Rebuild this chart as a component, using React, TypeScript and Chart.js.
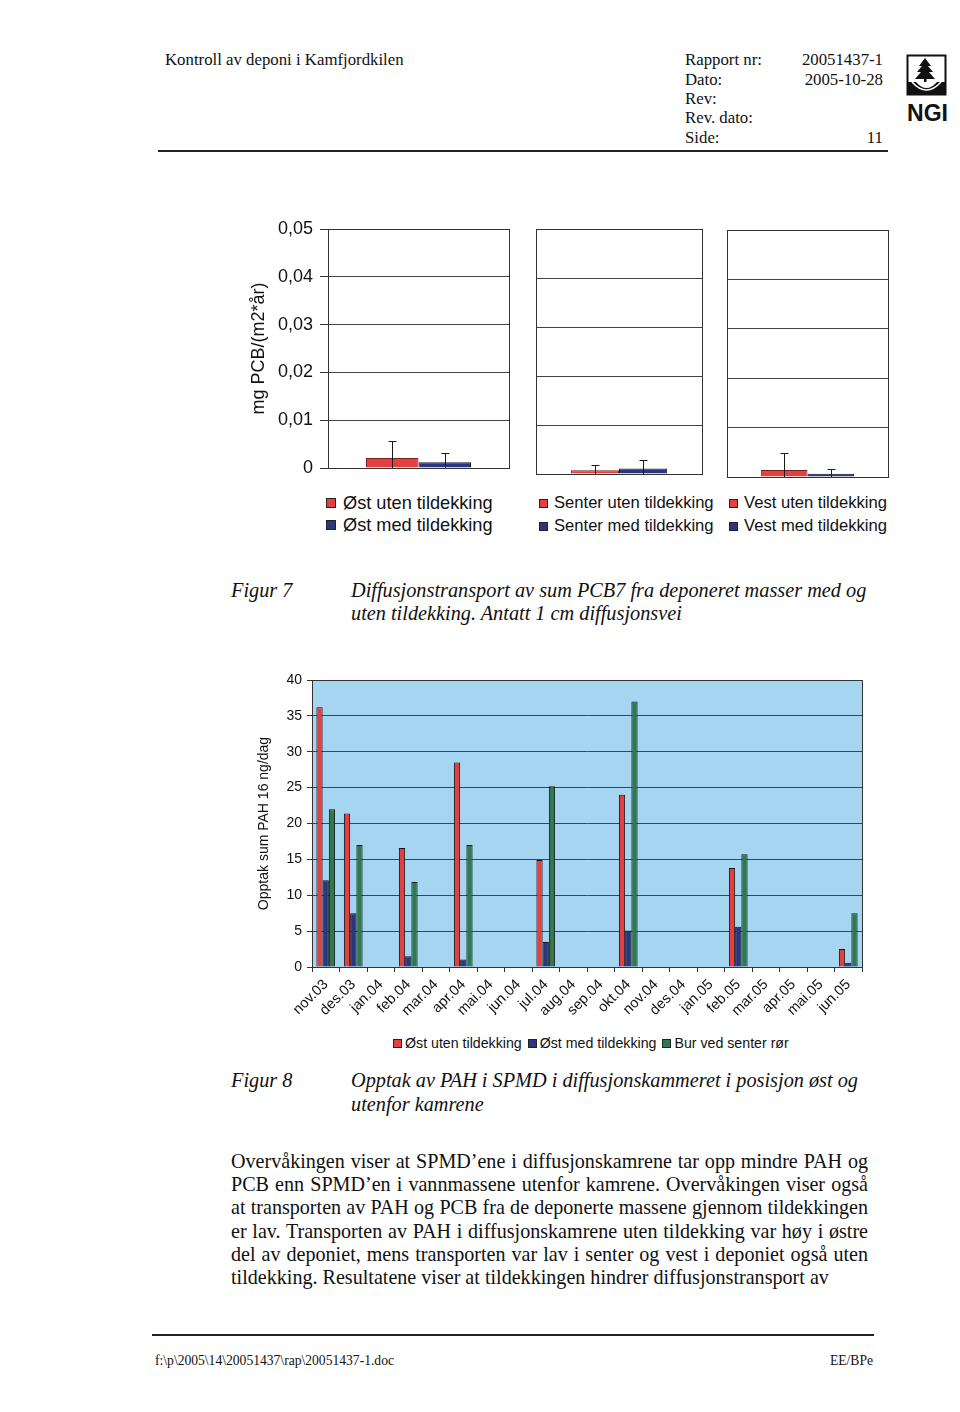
import React, { useEffect, useRef } from "react";
import { Chart, registerables } from "chart.js";
Chart.register(...registerables);

// ---------- Figure 7 data (PCB7 diffusion transport) ----------
const pcbPanels = ["Øst", "Senter", "Vest"];
const pcbUten = [0.0021, 0.00075, 0.0014];
const pcbUtenErr = [0.0035, 0.00105, 0.0034];
const pcbMed = [0.0012, 0.0011, 0.00067];
const pcbMedErr = [0.0019, 0.0018, 0.00093];
const pcbUtenLabels = ["Øst uten tildekking", "Senter uten tildekking", "Vest uten tildekking"];
const pcbMedLabels = ["Øst med tildekking", "Senter med tildekking", "Vest med tildekking"];
const pcbYTitle = "mg PCB/(m2*år)";

// ---------- Figure 8 data (PAH uptake) ----------
const months = [
  "nov.03", "des.03", "jan.04", "feb.04", "mar.04", "apr.04", "mai.04", "jun.04", "jul.04", "aug.04",
  "sep.04", "okt.04", "nov.04", "des.04", "jan.05", "feb.05", "mar.05", "apr.05", "mai.05", "jun.05",
];
const ostUten = [36.2, 21.4, null, 16.6, null, 28.5, null, null, 14.9, null, null, 24.0, null, null, null, 13.8, null, null, null, 2.5];
const ostMed = [12.1, 7.5, null, 1.5, null, 1.05, null, null, 3.5, null, null, 5.1, null, null, null, 5.6, null, null, null, 0.6];
const burSenter = [22.0, 17.0, null, 11.85, null, 17.0, null, null, 25.2, null, null, 37.0, null, null, null, 15.7, null, null, null, 7.5];
const pahSeriesNames = ["Øst uten tildekking", "Øst med tildekking", "Bur ved senter rør"];
const pahYTitle = "Opptak sum PAH 16 ng/dag";

const RED = "#e4403f";
const BLUE = "#2c367f";
const GREEN = "#2e7a4e";
const PLOT_BG = "#a6d5f2";

const SANS = "'Liberation Sans', Arial, sans-serif";
const SERIF = "'Liberation Serif', 'Times New Roman', serif";

const errorBarPlugin = {
  id: "errorBars",
  afterDatasetsDraw(chart: any) {
    const ctx = chart.ctx;
    const yScale = chart.scales.y;
    chart.data.datasets.forEach((ds: any, i: number) => {
      const errs = ds.errors;
      if (!errs) return;
      const meta = chart.getDatasetMeta(i);
      meta.data.forEach((el: any, j: number) => {
        const v = ds.data[j];
        const e = errs[j];
        if (v == null || e == null) return;
        const x = Math.round(el.x) + 0.5;
        const yT = Math.round(yScale.getPixelForValue(v + e)) + 0.5;
        const yB = yScale.getPixelForValue(Math.max(0, v - e));
        ctx.save();
        ctx.strokeStyle = "#1a1a1a";
        ctx.lineWidth = 1;
        ctx.beginPath();
        ctx.moveTo(x, yB);
        ctx.lineTo(x, yT);
        ctx.moveTo(x - 4, yT);
        ctx.lineTo(x + 4, yT);
        ctx.stroke();
        ctx.restore();
      });
    });
  },
};

const framePlugin = {
  id: "frameBox",
  beforeDraw(chart: any, _args: any, opts: any) {
    const a = chart.chartArea;
    if (opts && opts.bg) {
      const ctx = chart.ctx;
      ctx.save();
      ctx.fillStyle = opts.bg;
      ctx.fillRect(a.left, a.top, a.right - a.left, a.bottom - a.top);
      ctx.restore();
    }
  },
  afterDraw(chart: any, _args: any, opts: any) {
    const a = chart.chartArea;
    const ctx = chart.ctx;
    ctx.save();
    ctx.strokeStyle = (opts && opts.color) || "#222";
    ctx.lineWidth = 1;
    ctx.strokeRect(Math.round(a.left) + 0.5, Math.round(a.top) + 0.5, Math.round(a.right - a.left), Math.round(a.bottom - a.top));
    ctx.restore();
  },
};

function ChartCanvas(props: { left: number; top: number; width: number; height: number; make: () => any }) {
  const ref = useRef<HTMLCanvasElement | null>(null);
  useEffect(() => {
    if (!ref.current) return;
    const chart = new Chart(ref.current, props.make());
    return () => chart.destroy();
  }, []);
  return (
    <canvas
      ref={ref}
      width={props.width}
      height={props.height}
      style={{ position: "absolute", left: props.left, top: props.top, width: props.width, height: props.height }}
    />
  );
}

function pcbConfig(i: number, padding: any, yWidth: number, showTicks: boolean) {
  return {
    type: "bar",
    data: {
      labels: [pcbPanels[i]],
      datasets: [
        { label: pcbUtenLabels[i], data: [pcbUten[i]], errors: [pcbUtenErr[i]], backgroundColor: RED, borderColor: "#7a2020", borderWidth: 1 },
        { label: pcbMedLabels[i], data: [pcbMed[i]], errors: [pcbMedErr[i]], backgroundColor: BLUE, borderColor: "#15183a", borderWidth: 1 },
      ],
    },
    options: {
      responsive: false,
      animation: false,
      devicePixelRatio: 1,
      layout: { padding },
      datasets: { bar: { categoryPercentage: 0.58, barPercentage: 1 } },
      plugins: { legend: { display: false }, tooltip: { enabled: false }, frameBox: { color: "#333" } },
      scales: {
        x: { display: false },
        y: {
          min: 0,
          max: 0.05,
          afterFit: (s: any) => { s.width = yWidth; s.paddingTop = 0; s.paddingBottom = 0; },
          border: { display: false },
          grid: { color: "#444", lineWidth: 1, drawTicks: showTicks, tickLength: 8, tickColor: "#333" },
          ticks: {
            display: showTicks,
            stepSize: 0.01,
            padding: 7,
            color: "#111",
            font: { family: SANS, size: 18 },
            callback: (v: any) => (v === 0 ? "0" : Number(v).toFixed(2).replace(".", ",")),
          },
          title: {
            display: showTicks,
            text: pcbYTitle,
            color: "#111",
            padding: { top: 8, bottom: 0 },
            font: { family: SANS, size: 18 },
          },
        },
      },
    },
    plugins: [framePlugin, errorBarPlugin],
  };
}

function pahConfig() {
  const cols = [RED, BLUE, GREEN];
  const data = [ostUten, ostMed, burSenter];
  return {
    type: "bar",
    data: {
      labels: months,
      datasets: pahSeriesNames.map((n, k) => ({
        label: n,
        data: data[k],
        backgroundColor: cols[k],
        borderColor: "#151515",
        borderWidth: 1,
      })),
    },
    options: {
      responsive: false,
      animation: false,
      devicePixelRatio: 1,
      layout: { padding: { top: 15, right: 18, left: 0, bottom: 0 } },
      datasets: { bar: { categoryPercentage: 0.68, barPercentage: 1 } },
      plugins: { legend: { display: false }, tooltip: { enabled: false }, frameBox: { color: "#333", bg: PLOT_BG } },
      scales: {
        x: {
          afterFit: (s: any) => { s.height = 63; s.paddingLeft = 0; s.paddingRight = 0; },
          border: { display: true, color: "#333" },
          grid: { offset: true, drawOnChartArea: false, drawTicks: true, tickLength: 5, tickColor: "#333" },
          ticks: {
            autoSkip: false,
            maxRotation: 45,
            minRotation: 45,
            padding: 4,
            color: "#111",
            font: { family: SANS, size: 14.5 },
          },
        },
        y: {
          min: 0,
          max: 40,
          afterFit: (s: any) => { s.width = 72; s.paddingTop = 0; s.paddingBottom = 0; },
          border: { display: true, color: "#333" },
          grid: { color: "#3a4552", lineWidth: 1, drawTicks: true, tickLength: 5, tickColor: "#333" },
          ticks: { stepSize: 5, padding: 5, color: "#111", font: { family: SANS, size: 14 } },
          title: {
            display: true,
            text: pahYTitle,
            color: "#111",
            padding: { top: 16, bottom: 0 },
            font: { family: SANS, size: 14 },
          },
        },
      },
    },
    plugins: [framePlugin],
  };
}

function T(props: { x: number; y: number; size: number; text: string; italic?: boolean; right?: boolean; family?: string; bold?: boolean; w?: number; justify?: boolean }) {
  const lh = Math.round(props.size * 1.2);
  const style: any = {
    position: "absolute",
    top: props.y - lh / 2,
    fontFamily: props.family || SERIF,
    fontSize: props.size,
    lineHeight: lh + "px",
    whiteSpace: "nowrap",
    fontStyle: props.italic ? "italic" : "normal",
    fontWeight: props.bold ? "bold" : "normal",
    color: "#111",
  };
  if (props.right) {
    style.right = 960 - props.x;
    style.textAlign = "right";
  } else {
    style.left = props.x;
  }
  if (props.w) {
    style.width = props.w;
  }
  if (props.justify) {
    style.textAlign = "justify";
    style.textAlignLast = "justify";
  }
  return <div style={style}>{props.text}</div>;
}

function LegendItem(props: { x: number; y: number; color: string; text: string; size: number; box: number; gap: number }) {
  return (
    <div style={{ position: "absolute", left: props.x, top: props.y - 12, height: 24, display: "flex", alignItems: "center", whiteSpace: "nowrap" }}>
      <span style={{ display: "inline-block", width: props.box, height: props.box, background: props.color, border: "1px solid #222", boxSizing: "border-box", marginRight: props.gap }} />
      <span style={{ fontFamily: SANS, fontSize: props.size, color: "#111" }}>{props.text}</span>
    </div>
  );
}

const paragraph = [
  "Overvåkingen viser at SPMD’ene i diffusjonskamrene tar opp mindre PAH og",
  "PCB enn SPMD’en i vannmassene utenfor kamrene. Overvåkingen viser også",
  "at transporten av PAH og PCB fra de deponerte massene gjennom tildekkingen",
  "er lav. Transporten av PAH i diffusjonskamrene uten tildekking var høy i østre",
  "del av deponiet, mens transporten var lav i senter og vest i deponiet også uten",
  "tildekking. Resultatene viser at tildekkingen hindrer diffusjonstransport av",
];

function Logo() {
  return (
    <svg width={46} height={72} style={{ position: "absolute", left: 904, top: 53 }} viewBox="0 0 46 72">
      <rect x={3.5} y={2.5} width={38} height={39} fill="#fff" stroke="#111" strokeWidth={2} />
      <path d="M3.5 29 L12 29 Q22.5 41 33 29 L41.5 29 L41.5 41.5 L3.5 41.5 Z" fill="#111" />
      <path d="M8 29 Q22.5 45 37 29" fill="none" stroke="#fff" strokeWidth={1.5} />
      <path d="M21 5 L15 13 L18 13 L13 19 L17 19 L11 26 L31 26 L25 19 L29 19 L24 13 L27 13 Z" fill="#111" />
      <rect x={20} y={24} width={2.5} height={5} fill="#111" />
      <text x={23.5} y={68} textAnchor="middle" fontFamily={SANS} fontWeight="bold" fontSize={23} fill="#111">NGI</text>
    </svg>
  );
}

export default function App() {
  return (
    <div style={{ position: "absolute", left: 0, top: 0, width: 960, height: 1412, background: "#fff", overflow: "hidden" }}>
      {/* Header */}
      <T x={165} y={60} size={16.8} text="Kontroll av deponi i Kamfjordkilen" />
      <T x={685} y={60} size={16.8} text="Rapport nr:" />
      <T x={685} y={80} size={16.8} text="Dato:" />
      <T x={685} y={99} size={16.8} text="Rev:" />
      <T x={685} y={118} size={16.8} text="Rev. dato:" />
      <T x={685} y={138} size={16.8} text="Side:" />
      <T x={883} y={60} size={16.8} right text="20051437-1" />
      <T x={883} y={80} size={16.8} right text="2005-10-28" />
      <T x={883} y={138} size={16.8} right text="11" />
      <Logo />
      <div style={{ position: "absolute", left: 158, top: 150, width: 730, height: 2, background: "#222" }} />

      {/* Figure 7 charts */}
      <ChartCanvas left={240} top={215} width={280} height={265} make={() => pcbConfig(0, { top: 14, right: 11, bottom: 12, left: 0 }, 88, true)} />
      <ChartCanvas left={530} top={215} width={180} height={265} make={() => pcbConfig(1, { top: 14, right: 8, bottom: 6, left: 6 }, 0, false)} />
      <ChartCanvas left={720} top={215} width={180} height={265} make={() => pcbConfig(2, { top: 15, right: 12, bottom: 3, left: 7 }, 0, false)} />

      <LegendItem x={326} y={503} color={RED} text={pcbUtenLabels[0]} size={18.2} box={10} gap={7} />
      <LegendItem x={326} y={525} color={BLUE} text={pcbMedLabels[0]} size={18.2} box={10} gap={7} />
      <LegendItem x={539} y={503} color={RED} text={pcbUtenLabels[1]} size={16.6} box={9} gap={6} />
      <LegendItem x={539} y={526} color={BLUE} text={pcbMedLabels[1]} size={16.6} box={9} gap={6} />
      <LegendItem x={729} y={503} color={RED} text={pcbUtenLabels[2]} size={16.6} box={9} gap={6} />
      <LegendItem x={729} y={526} color={BLUE} text={pcbMedLabels[2]} size={16.6} box={9} gap={6} />

      <T x={231} y={590} size={20.3} italic text="Figur 7" />
      <T x={351} y={590} size={20.3} italic text="Diffusjonstransport av sum PCB7 fra deponeret masser med og" />
      <T x={351} y={613} size={20.3} italic text="uten tildekking. Antatt 1 cm diffusjonsvei" />

      {/* Figure 8 chart */}
      <ChartCanvas left={240} top={665} width={640} height={365} make={pahConfig} />
      <div style={{ position: "absolute", left: 393, top: 1031, height: 24, display: "flex", alignItems: "center", whiteSpace: "nowrap" }}>
        {pahSeriesNames.map((n, k) => (
          <span key={n} style={{ display: "inline-flex", alignItems: "center", marginRight: 6 }}>
            <span style={{ display: "inline-block", width: 9, height: 9, background: [RED, BLUE, GREEN][k], border: "1px solid #222", boxSizing: "border-box", marginRight: 3 }} />
            <span style={{ fontFamily: SANS, fontSize: 14.2, color: "#111" }}>{n}</span>
          </span>
        ))}
      </div>

      <T x={231} y={1080} size={20.3} italic text="Figur 8" />
      <T x={351} y={1080} size={20.3} italic text="Opptak av PAH i SPMD i diffusjonskammeret i posisjon øst og" />
      <T x={351} y={1104} size={20.3} italic text="utenfor kamrene" />

      {/* Body text */}
      {paragraph.map((line, k) => (
        <T key={k} x={231} y={1161 + k * 23.2} size={20.1} text={line} w={k < 5 ? 637 : undefined} justify={k < 5} />
      ))}

      {/* Footer */}
      <div style={{ position: "absolute", left: 152, top: 1334, width: 722, height: 2, background: "#222" }} />
      <T x={155} y={1361} size={13.6} text={"f:\\p\\2005\\14\\20051437\\rap\\20051437-1.doc"} />
      <T x={873} y={1361} size={13.6} right text="EE/BPe" />
    </div>
  );
}
